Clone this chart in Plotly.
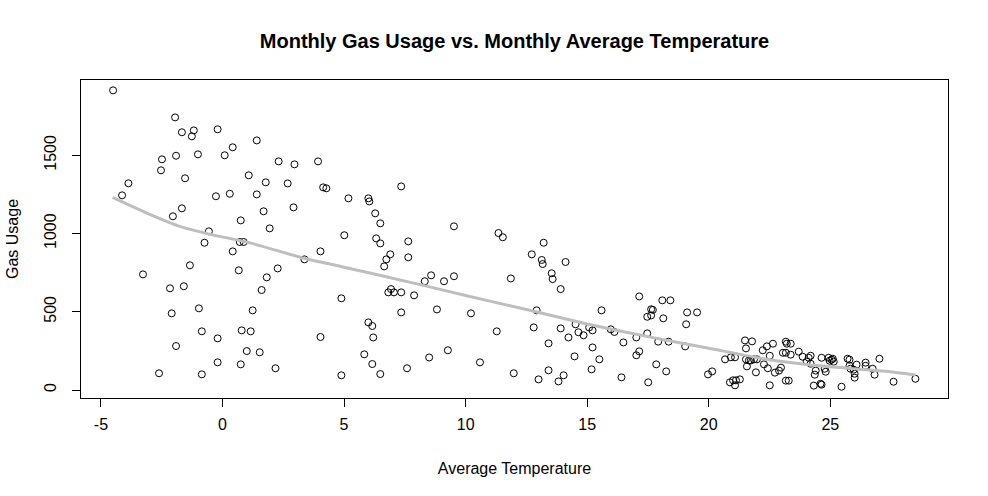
import plotly.graph_objects as go

temperature = [
    -4.50, -1.95, -1.67, -1.18, -1.26, -0.20, 0.42, -1.91, -1.01, 0.09,
    -2.49, -2.53, -1.54, 1.08, -3.87, -4.13, -0.27, 0.30, -1.67, -2.04,
    0.75, -0.56, -0.74, 0.71, 0.87, 1.41, 1.41, 0.42, -1.34, 0.67,
    -3.27, -2.16, -1.59, -0.97, -2.09, 1.24, -0.85, -0.20, 0.79, 1.16,
    -1.91, 1.00, -0.20, 0.75, -2.61, -0.85,
    2.31, 2.96, 3.93, 1.78, 2.68, 4.14, 4.27, 7.35, 5.18, 6.00,
    6.04, 1.69, 2.92, 6.28, 6.49, 1.94, 5.01, 6.32, 6.49, 7.64,
    4.03, 3.37, 2.27, 1.82, 6.90, 6.74, 6.65, 7.64, 1.61, 4.89,
    6.82, 6.93, 7.05, 7.35, 7.88, 7.35, 6.00, 6.16, 4.03, 6.20,
    1.53, 5.83, 6.16, 2.18, 4.89, 6.49, 7.59,
    9.52, 11.35, 11.53, 13.21, 12.72, 13.13, 13.17, 14.11, 13.54, 13.58,
    13.91, 8.32, 8.58, 9.11, 9.52, 11.86, 8.82, 10.22, 12.92, 15.59,
    11.28, 12.80, 13.91, 14.52, 15.08, 15.22, 14.64, 14.85, 14.23, 13.41,
    15.22, 9.27, 8.50, 10.59, 14.48, 15.50, 11.98, 13.41, 14.03, 13.00,
    13.82, 15.18,
    17.14, 18.09, 18.42, 17.63, 17.70, 17.47, 17.63, 18.13, 19.11, 19.52,
    19.07, 15.97, 16.12, 17.47, 16.49, 17.02, 17.92, 18.35, 19.03, 17.02,
    17.14, 17.84, 18.25, 16.41, 17.51, 19.97, 20.14, 20.87, 21.00, 21.12,
    21.28, 21.08, 20.67, 20.91, 21.08, 21.49, 21.78, 21.53, 21.53, 21.65,
    21.73, 21.86, 21.98, 21.57, 21.94, 22.22, 22.39, 22.27, 22.43, 22.51,
    22.64, 22.51, 22.72, 22.89, 22.97, 23.17, 23.21, 23.37, 23.05, 23.17,
    23.37, 23.70, 23.86, 24.11, 24.19, 24.03, 24.19, 24.40, 24.36, 23.17,
    23.29, 24.32,
    24.64, 24.93, 25.05, 25.14, 25.10, 24.97, 24.60, 24.64, 24.81, 24.77,
    25.46, 25.71, 25.79, 25.79, 25.83, 25.96, 26.00, 26.00, 26.08, 26.45,
    26.45, 26.74, 26.82, 27.02, 27.60, 28.50,
]

gas_usage = [
    1915, 1742, 1647, 1659, 1621, 1666, 1551, 1497, 1506, 1500,
    1474, 1404, 1353, 1372, 1321, 1244, 1238, 1254, 1161, 1110,
    1084, 1014, 941, 946, 946, 1595, 1250, 886, 797, 765,
    739, 650, 663, 522, 490, 509, 375, 330, 381, 375,
    281, 249, 177, 164, 107, 100,
    1461, 1442, 1461, 1327, 1320, 1295, 1289, 1301, 1225, 1225,
    1205, 1142, 1167, 1129, 1065, 1033, 989, 969, 937, 950,
    886, 835, 777, 720, 867, 835, 790, 848, 639, 586,
    624, 645, 624, 624, 605, 496, 432, 409, 339, 336,
    241, 228, 166, 139, 94, 102, 139,
    1046, 1003, 976, 941, 867, 831, 805, 818, 746, 709,
    645, 695, 733, 695, 727, 713, 515, 490, 509, 509,
    375, 400, 394, 420, 400, 381, 369, 350, 336, 298,
    272, 254, 208, 177, 215, 196, 107, 126, 94, 68,
    55, 132,
    598, 573, 573, 516, 512, 468, 477, 458, 496, 496,
    420, 388, 371, 362, 304, 336, 309, 309, 279, 222,
    247, 164, 119, 81, 49, 100, 119, 49, 62, 62,
    68, 30, 196, 209, 209, 317, 311, 266, 196, 189,
    189, 196, 196, 151, 113, 254, 279, 164, 139, 30,
    296, 219, 111, 124, 143, 309, 296, 296, 238, 238,
    226, 245, 213, 206, 219, 181, 168, 124, 98, 60,
    60, 28,
    206, 206, 194, 181, 200, 187, 40, 34, 117, 136,
    21, 200, 194, 155, 136, 130, 104, 79, 162, 175,
    155, 136, 98, 200, 53, 72,
]

smooth_x = [-4.52, -3.09, -1.72, -0.08, 0.9, 3.4, 5.0, 8.0, 10.0, 12.5,
            15.0, 17.5, 20.0, 22.5, 24.2, 27.46, 28.5]
smooth_y = [1231, 1129, 1044, 980, 950, 840, 785, 678, 604, 514,
            422, 341, 267, 193, 160, 117, 96]

x_ticks = [-5, 0, 5, 10, 15, 20, 25]
y_ticks = [0, 500, 1000, 1500]

font_family = "Liberation Sans, Arial, sans-serif"

fig = go.Figure()
fig.add_trace(go.Scatter(
    x=temperature, y=gas_usage, mode="markers",
    marker=dict(symbol="circle-open", size=7, color="black",
                line=dict(width=1, color="black")),
    showlegend=False, hoverinfo="x+y",
))
fig.add_trace(go.Scatter(
    x=smooth_x, y=smooth_y, mode="lines",
    line=dict(color="#BEBEBE", width=3, shape="spline", smoothing=0.6),
    showlegend=False,
))

fig.update_layout(
    width=988, height=496,
    margin=dict(l=78, r=40, t=80, b=98),
    paper_bgcolor="white", plot_bgcolor="white",
    font=dict(family=font_family, size=16, color="black"),
    title=dict(text="<b>Monthly Gas Usage vs. Monthly Average Temperature</b>",
               x=0.5, xref="paper", y=1 - 41 / 496, yref="container",
               xanchor="center", yanchor="middle",
               font=dict(family=font_family, size=20, color="black")),
    xaxis=dict(range=[-5.82, 29.84], tickvals=x_ticks, ticktext=[str(v) for v in x_ticks],
               showgrid=False, zeroline=False, showline=True, mirror=True,
               linecolor="black", linewidth=1, ticks="outside", ticklen=8,
               tickcolor="black", tickwidth=1, ticklabelstandoff=4,
               tickfont=dict(size=16),
               title=dict(text="Average Temperature", standoff=30,
                          font=dict(size=16))),
    yaxis=dict(range=[-51, 1981], tickvals=y_ticks, ticktext=[str(v) for v in y_ticks],
               showgrid=False, zeroline=False, showline=True, mirror=True,
               linecolor="black", linewidth=1, ticks="outside", ticklen=8,
               tickcolor="black", tickwidth=1, tickangle=-90, ticklabelstandoff=10,
               tickfont=dict(size=16),
               title=dict(text="Gas Usage", standoff=18, font=dict(size=16))),
)

fig.write_html("out.html")
